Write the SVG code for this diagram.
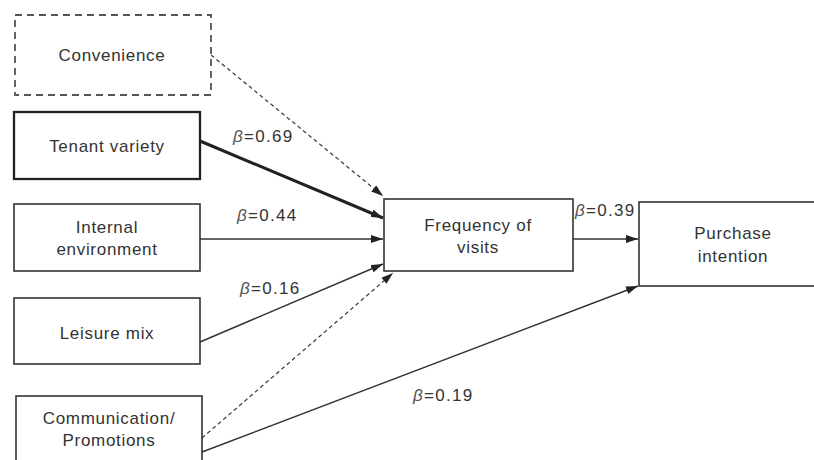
<svg xmlns="http://www.w3.org/2000/svg" width="814" height="460" viewBox="0 0 814 460">
  <defs>
    <marker id="arrow" viewBox="0 0 12 8" refX="12" refY="4" markerWidth="12" markerHeight="8" markerUnits="userSpaceOnUse" orient="auto">
      <path d="M0,0 L12,4 L0,8 Z" fill="#222"/>
    </marker>
    <style>
      .box { fill: #fff; stroke: #333; stroke-width: 1.6; }
      .box-bold { fill: #fff; stroke: #222; stroke-width: 2.3; }
      .box-dash { fill: #fff; stroke: #555; stroke-width: 1.8; stroke-dasharray: 7 5; }
      .lbl { font-family: "Liberation Sans", Arial, sans-serif; font-size: 17px; letter-spacing: 0.7px; fill: #333; text-anchor: middle; }
      .beta { font-family: "Liberation Sans", Arial, sans-serif; font-size: 17px; letter-spacing: 1.3px; fill: #333; }
      .beta tspan.g { font-style: italic; fill: #555; }
      .edge { fill: none; stroke: #333; stroke-width: 1.5; marker-end: url(#arrow); }
      .edge-bold { fill: none; stroke: #222; stroke-width: 3; marker-end: url(#arrow); }
      .edge-dash { fill: none; stroke: #444; stroke-width: 1.3; stroke-dasharray: 4 3; marker-end: url(#arrow); }
    </style>
  </defs>
  <rect width="814" height="460" fill="#fff"/>

  <!-- connectors -->
  <g id="connectors">
    <path class="edge-dash" d="M211,55 L383,196"/>
    <path class="edge-bold" d="M200,141 L383,218"/>
    <path class="edge" d="M200,239 L383,239"/>
    <path class="edge" d="M200,342 L383,264"/>
    <path class="edge-dash" d="M202,438 L393,273"/>
    <path class="edge" d="M202,452 L638,286"/>
    <path class="edge" d="M573,239 L638,239"/>
  </g>

  <!-- path coefficients -->
  <g id="coefficients">
    <text class="beta" x="233" y="142"><tspan class="g">β</tspan>=0.69</text>
    <text class="beta" x="237" y="221"><tspan class="g">β</tspan>=0.44</text>
    <text class="beta" x="240" y="294"><tspan class="g">β</tspan>=0.16</text>
    <text class="beta" x="575" y="216"><tspan class="g">β</tspan>=0.39</text>
    <text class="beta" x="413" y="401"><tspan class="g">β</tspan>=0.19</text>
  </g>

  <g id="convenience">
    <rect class="box-dash" x="15" y="15" width="196" height="80"/>
    <text class="lbl" x="112" y="61">Convenience</text>
  </g>
  <g id="tenant-variety">
    <rect class="box-bold" x="14" y="112" width="186" height="67"/>
    <text class="lbl" x="107" y="152">Tenant variety</text>
  </g>
  <g id="internal-environment">
    <rect class="box" x="14" y="204" width="186" height="67"/>
    <text class="lbl" x="107" y="233">Internal</text>
    <text class="lbl" x="107" y="255">environment</text>
  </g>
  <g id="leisure-mix">
    <rect class="box" x="14" y="298" width="186" height="66"/>
    <text class="lbl" x="107" y="339">Leisure mix</text>
  </g>
  <g id="communication-promotions">
    <rect class="box" x="16" y="396" width="186" height="80"/>
    <text class="lbl" x="109" y="424">Communication/</text>
    <text class="lbl" x="109" y="446">Promotions</text>
  </g>
  <g id="frequency-of-visits">
    <rect class="box" x="384" y="199" width="189" height="72"/>
    <text class="lbl" x="478" y="231">Frequency of</text>
    <text class="lbl" x="478" y="253">visits</text>
  </g>
  <g id="purchase-intention">
    <rect class="box" x="639" y="202" width="190" height="84"/>
    <text class="lbl" x="733" y="239">Purchase</text>
    <text class="lbl" x="733" y="262">intention</text>
  </g>
</svg>
